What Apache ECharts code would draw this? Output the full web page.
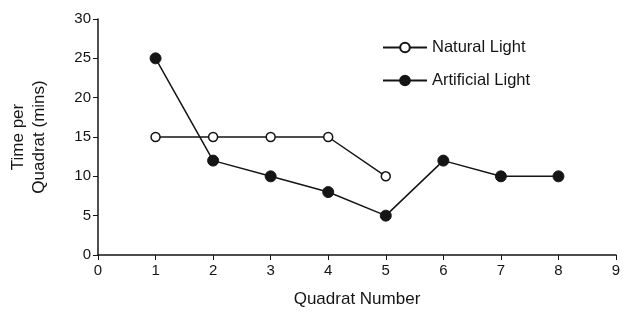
<!DOCTYPE html>
<html lang="en">
<head>
    <meta charset="UTF-8">
    <title>Time per Quadrat</title>
    <style>
        html, body { margin: 0; padding: 0; background: #fff; }
        #chart { width: 624px; height: 313px; }
    </style>
    <script src="https://cdn.jsdelivr.net/npm/echarts@6/dist/echarts.min.js"></script>
</head>
<body>
    <div id="chart"></div>
    <script>
        // data
        const naturalX = [1, 2, 3, 4, 5];
        const naturalY = [15, 15, 15, 15, 10];
        const artificialX = [1, 2, 3, 4, 5, 6, 7, 8];
        const artificialY = [25, 12, 10, 8, 5, 12, 10, 10];
        const xTicks = [0, 1, 2, 3, 4, 5, 6, 7, 8, 9];
        const yTicks = [0, 5, 10, 15, 20, 25, 30];

        const ink = '#151515';
        const font = 'Liberation Sans, Arial, sans-serif';

        const chart = echarts.init(document.getElementById('chart'));
        chart.setOption({
            animation: false,
            grid: { left: 97, right: 8, top: 19, bottom: 58 },
            legend: {
                orient: 'vertical',
                left: 377,
                top: 34,
                itemGap: 16,
                itemWidth: 44,
                itemHeight: 12,
                textStyle: { color: ink, fontSize: 16.5, fontFamily: font },
                data: ['Natural Light', 'Artificial Light']
            },
            xAxis: {
                type: 'value',
                min: xTicks[0],
                max: xTicks[xTicks.length - 1],
                interval: 1,
                name: 'Quadrat Number',
                nameLocation: 'middle',
                nameGap: 36,
                nameTextStyle: { color: ink, fontSize: 17, fontFamily: font },
                axisLine: { lineStyle: { color: ink, width: 1.5 } },
                axisTick: { length: 5, lineStyle: { color: ink } },
                axisLabel: { color: ink, fontSize: 15, fontFamily: font, margin: 8 },
                splitLine: { show: false }
            },
            yAxis: {
                type: 'value',
                min: yTicks[0],
                max: yTicks[yTicks.length - 1],
                interval: 5,
                name: 'Time per\nQuadrat (mins)',
                nameLocation: 'middle',
                nameRotate: 90,
                nameGap: 48,
                nameTextStyle: { color: ink, fontSize: 17, fontFamily: font, lineHeight: 21, align: 'center' },
                axisLine: { show: true, lineStyle: { color: ink, width: 1.5 } },
                axisTick: { show: true, length: 5, lineStyle: { color: ink } },
                axisLabel: { color: ink, fontSize: 15, fontFamily: font, margin: 7 },
                splitLine: { show: false }
            },
            series: [
                {
                    name: 'Natural Light',
                    type: 'line',
                    data: naturalX.map((x, i) => [x, naturalY[i]]),
                    symbol: 'circle',
                    symbolSize: 9,
                    itemStyle: { color: '#fff', borderColor: ink, borderWidth: 1.5 },
                    lineStyle: { color: ink, width: 1.5 }
                },
                {
                    name: 'Artificial Light',
                    type: 'line',
                    data: artificialX.map((x, i) => [x, artificialY[i]]),
                    symbol: 'circle',
                    symbolSize: 11,
                    itemStyle: { color: ink, borderColor: ink, borderWidth: 1 },
                    lineStyle: { color: ink, width: 1.5 }
                }
            ]
        });
    </script>
</body>
</html>
